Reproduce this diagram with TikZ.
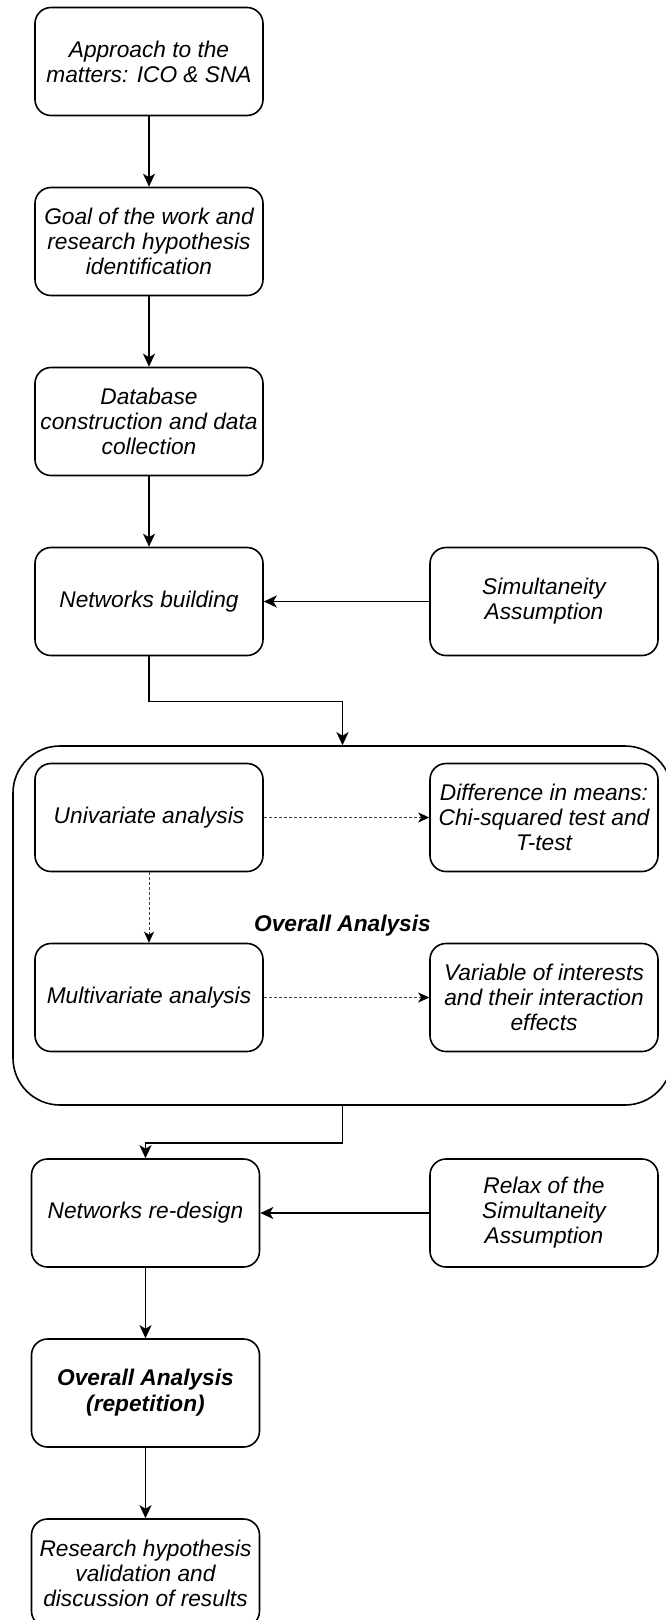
\documentclass[tikz,border=0pt]{standalone}
\usepackage{fontspec}
\setmainfont{Liberation Sans}
\usetikzlibrary{arrows.meta, positioning}
\tikzset{>={Stealth[length=13pt,width=12pt,inset=3.5pt]},
    node distance=180pt,
    phase/.style={rectangle,rounded corners=16pt,draw,fill=white,
        minimum width=228pt,minimum height=108pt,align=center,
        font=\fontsize{22.7pt}{25pt}\selectfont\itshape},
    boldphase/.style={phase,font=\fontsize{22.7pt}{26pt}\selectfont\bfseries\itshape},
    cluster/.style={rectangle,rounded corners=47pt,draw,
        minimum width=659pt,minimum height=359pt,
        font=\fontsize{22.7pt}{25pt}\selectfont\bfseries\itshape},
    link/.style={-{Stealth[length=11pt,width=10pt,inset=3pt,black]},
        dash pattern=on 3pt off 2pt,line width=1pt,draw=black!75}}

\begin{document}
\begin{tikzpicture}[->, x=1pt, y=1pt, line width=1.6pt]
\useasboundingbox (0,0) rectangle (666,-1620);

\node[cluster]   (overall)      at (342.5,-925.5)  {Overall Analysis};

\node[phase]     (approach)     at (149,-61.5)     {Approach to the\\matters: ICO \& SNA};
\node[phase]     (goal)         [below of = approach]     {Goal of the work and\\research hypothesis\\identification};
\node[phase]     (database)     [below of = goal]         {Database\\construction and data\\collection};
\node[phase]     (networks)     [below of = database]     {Networks building};
\node[phase]     (simultaneity) [right of = networks, node distance=395pt]    {Simultaneity\\Assumption};
\node[phase]     (univariate)   [below of = networks, node distance=216pt]    {Univariate analysis};
\node[phase]     (difference)   [right of = univariate, node distance=395pt]  {Difference in means:\\Chi-squared test and\\T-test};
\node[phase]     (multivariate) [below of = univariate]   {Multivariate analysis};
\node[phase]     (variables)    [right of = multivariate, node distance=395pt] {Variable of interests\\and their interaction\\effects};
\node[phase]     (redesign)     [below of = multivariate, node distance=215.5pt, xshift=-3.5pt] {Networks re-design};
\node[phase]     (relax)        [right of = redesign, node distance=398.5pt]  {Relax of the\\Simultaneity\\Assumption};
\node[boldphase] (repetition)   [below of = redesign]     {Overall Analysis\\(repetition)};
\node[phase]     (results)      [below of = repetition]   {Research hypothesis\\validation and\\discussion of results};

\path[]
    (approach)     edge [] (goal)
    (goal)         edge [] (database)
    (database)     edge [] (networks)
    (simultaneity) edge [] (networks)
    (relax)        edge [] (redesign)
    (redesign)     edge [] (repetition)
    (repetition)   edge [] (results);

\path[link]
    (univariate)   edge [] (difference)
    (univariate)   edge [] (multivariate)
    (multivariate) edge [] (variables);

% into and out of the grouped analysis
\draw (networks.south) -- ++(0,-45) -| (overall.north);
\draw (overall.south) -- ++(0,-37) -| (redesign.north);
\end{tikzpicture}
\end{document}
